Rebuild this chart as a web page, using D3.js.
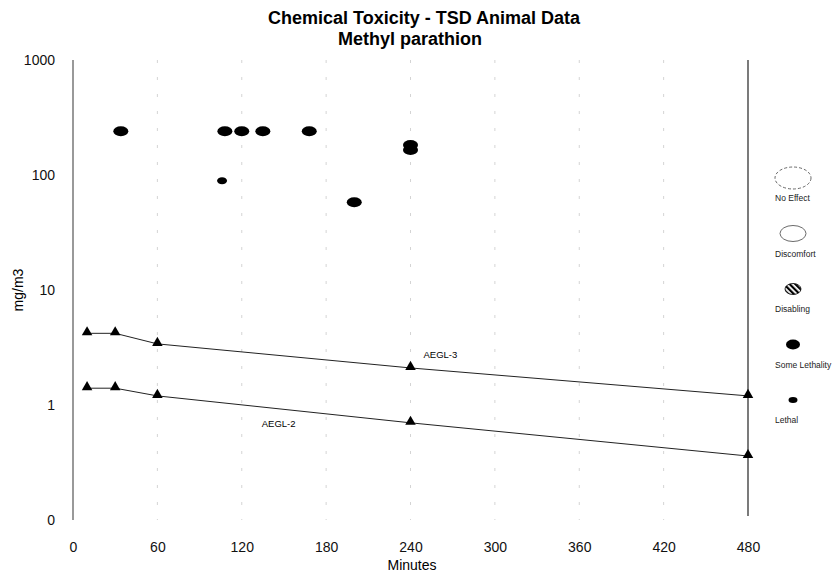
<!DOCTYPE html>
<html>
<head>
  <script type="text/javascript" src="https://d3js.org/d3.v7.min.js"></script>
  <style>
    body { margin: 0; background: #fff; }
    svg { font-family: Arial, "Liberation Sans", sans-serif; }
  </style>
</head>
<body>
<svg width="838" height="576"></svg>
<script>
// ---- data ----
const xTicks = [0, 60, 120, 180, 240, 300, 360, 420, 480];
const yTicks = [0.1, 1, 10, 100, 1000];
const yTickLabels = ["0", "1", "10", "100", "1000"];
const gridMinutes = [60, 120, 180, 240, 300, 360, 420];

const aeglMinutes = [10, 30, 60, 240, 480];
const aegl3 = [4.2, 4.2, 3.4, 2.1, 1.2];
const aegl2 = [1.4, 1.4, 1.2, 0.70, 0.36];

const someLethalityMinutes = [34, 108, 120, 135, 168, 200, 240, 240];
const someLethalityConc = [240, 240, 240, 240, 240, 58, 182, 165];
const lethalMinutes = [106];
const lethalConc = [89];

const legendNames = ["No Effect", "Discomfort", "Disabling", "Some Lethality", "Lethal"];

const svg = d3.select("svg");

const xScale = d3.scaleLinear()
  .domain([0, 480])
  .range([73, 748]);

const yScale = d3.scaleLog()
  .domain([0.1, 1000])
  .range([520, 60]);

// hatch pattern for "Disabling"
const defs = svg.append("defs");
defs.append("pattern")
  .attr("id", "hatch")
  .attr("patternUnits", "userSpaceOnUse")
  .attr("width", 4)
  .attr("height", 4)
  .attr("patternTransform", "rotate(-45)")
  .append("rect")
  .attr("width", 2.2)
  .attr("height", 4)
  .attr("fill", "#000");

// faint dashed grid remnants
svg.append("g")
  .selectAll("line")
  .data(gridMinutes)
  .enter()
  .append("line")
  .attr("x1", d => xScale(d))
  .attr("x2", d => xScale(d))
  .attr("y1", yScale(1000))
  .attr("y2", yScale(0.1))
  .attr("stroke", "#d4d4d4")
  .attr("stroke-width", 1)
  .attr("stroke-dasharray", "3,14");

// left axis line and right border line
svg.append("line")
  .attr("x1", xScale(0)).attr("x2", xScale(0))
  .attr("y1", yScale(1000)).attr("y2", yScale(0.1))
  .attr("stroke", "#777").attr("stroke-width", 1.5);

svg.append("line")
  .attr("x1", xScale(480)).attr("x2", xScale(480))
  .attr("y1", yScale(1000)).attr("y2", yScale(0.1) - 4)
  .attr("stroke", "#333").attr("stroke-width", 1.3);

// y axis labels
const yAxis = d3.axisLeft(yScale)
  .tickValues(yTicks)
  .tickSize(0)
  .tickPadding(18)
  .tickFormat((d, i) => yTickLabels[i]);

svg.append("g")
  .attr("class", "yAxis")
  .attr("transform", `translate(${xScale(0)},0)`)
  .call(yAxis)
  .call(g => g.select(".domain").remove())
  .selectAll("text")
  .style("font-size", "14px")
  .style("fill", "#111")
  .style("font-family", "Arial, 'Liberation Sans', sans-serif");

// x axis labels
const xAxis = d3.axisBottom(xScale)
  .tickValues(xTicks)
  .tickSize(0)
  .tickPadding(22);

svg.append("g")
  .attr("class", "xAxis")
  .attr("transform", `translate(0,${yScale(0.1)})`)
  .call(xAxis)
  .call(g => g.select(".domain").remove())
  .selectAll("text")
  .style("font-size", "14px")
  .style("fill", "#111")
  .style("font-family", "Arial, 'Liberation Sans', sans-serif");

// axis titles
svg.append("text")
  .text("Minutes")
  .attr("x", 412)
  .attr("y", 570)
  .attr("text-anchor", "middle")
  .style("font-size", "14px");

svg.append("text")
  .text("mg/m3")
  .attr("transform", "translate(23,290) rotate(-90)")
  .attr("text-anchor", "middle")
  .style("font-size", "14px");

// title
svg.append("text")
  .text("Chemical Toxicity - TSD Animal Data")
  .attr("x", 424)
  .attr("y", 24)
  .attr("text-anchor", "middle")
  .style("font-size", "18px")
  .style("font-weight", "bold");

svg.append("text")
  .text("Methyl parathion")
  .attr("x", 410)
  .attr("y", 45)
  .attr("text-anchor", "middle")
  .style("font-size", "18px")
  .style("font-weight", "bold");

// AEGL lines
const line = d3.line()
  .x(d => xScale(d[0]))
  .y(d => yScale(d[1]));

const aeglSeries = [
  { name: "AEGL-3", values: aegl3, labelAt: 240, dx: 13, dy: -10 },
  { name: "AEGL-2", values: aegl2, labelAt: 120, dx: 20, dy: 31 }
];

aeglSeries.forEach(s => {
  const pts = aeglMinutes.map((m, i) => [m, s.values[i]]);
  svg.append("path")
    .datum(pts)
    .attr("d", line)
    .attr("fill", "none")
    .attr("stroke", "#222")
    .attr("stroke-width", 1);

  svg.append("g")
    .selectAll("path")
    .data(pts)
    .enter()
    .append("path")
    .attr("d", d3.symbol().type(d3.symbolTriangle).size(48))
    .attr("transform", d => `translate(${xScale(d[0])},${yScale(d[1]) - 1})`)
    .attr("fill", "#000");

  const i = aeglMinutes.indexOf(s.labelAt);
  const v = i >= 0 ? s.values[i] : s.values[2];
  svg.append("text")
    .text(s.name)
    .attr("x", xScale(s.labelAt) + s.dx)
    .attr("y", yScale(v) + s.dy)
    .style("font-size", "9.5px");
});

// animal data points
svg.append("g")
  .selectAll("ellipse")
  .data(someLethalityMinutes.map((m, i) => [m, someLethalityConc[i]]))
  .enter()
  .append("ellipse")
  .attr("cx", d => xScale(d[0]))
  .attr("cy", d => yScale(d[1]))
  .attr("rx", 7.5)
  .attr("ry", 5)
  .attr("fill", "#000");

svg.append("g")
  .selectAll("ellipse")
  .data(lethalMinutes.map((m, i) => [m, lethalConc[i]]))
  .enter()
  .append("ellipse")
  .attr("cx", d => xScale(d[0]))
  .attr("cy", d => yScale(d[1]))
  .attr("rx", 5)
  .attr("ry", 3.5)
  .attr("fill", "#000");

// legend
const legendStyle = [
  { rx: 18, ry: 11, fill: "none", stroke: "#444", dash: "3,2" },
  { rx: 13, ry: 8, fill: "none", stroke: "#444", dash: null },
  { rx: 8, ry: 5.5, fill: "url(#hatch)", stroke: "#000", dash: null },
  { rx: 7, ry: 5, fill: "#000", stroke: "none", dash: null },
  { rx: 4.5, ry: 3, fill: "#000", stroke: "none", dash: null }
];

const legend = svg.append("g")
  .attr("class", "legend")
  .selectAll("g")
  .data(legendNames)
  .enter()
  .append("g")
  .attr("transform", (d, i) => `translate(793,${178 + i * 55.5})`);

legend.append("ellipse")
  .attr("rx", (d, i) => legendStyle[i].rx)
  .attr("ry", (d, i) => legendStyle[i].ry)
  .attr("fill", (d, i) => legendStyle[i].fill)
  .attr("stroke", (d, i) => legendStyle[i].stroke)
  .attr("stroke-width", 0.8)
  .attr("stroke-dasharray", (d, i) => legendStyle[i].dash);

legend.append("text")
  .text(d => d)
  .attr("x", -18)
  .attr("y", 23)
  .style("font-size", "8.5px")
  .style("fill", "#222");
</script>
</body>
</html>
